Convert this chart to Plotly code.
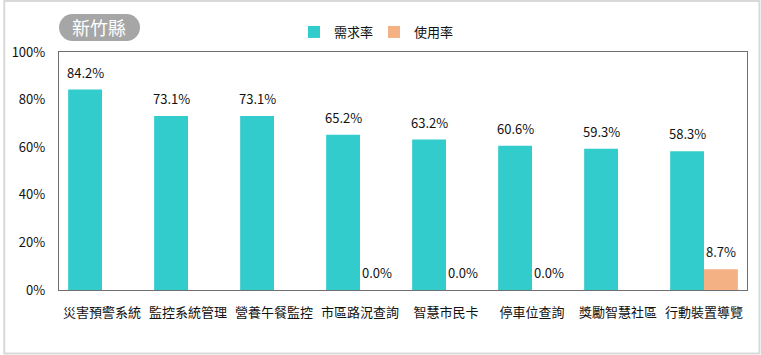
import plotly.graph_objects as go

categories = ["災害預警系統", "監控系統管理", "營養午餐監控", "市區路況查詢",
              "智慧市民卡", "停車位查詢", "獎勵智慧社區", "行動裝置導覽"]
demand = [84.2, 73.1, 73.1, 65.2, 63.2, 60.6, 59.3, 58.3]
usage = [None, None, None, 0.0, 0.0, 0.0, None, 8.7]
series_names = ["需求率", "使用率"]
colors = ["#33CCCC", "#F4B183"]
y_ticks = [0, 20, 40, 60, 80, 100]
title_text = "新竹縣"

FONT = "Noto Sans CJK TC, Noto Sans CJK SC, sans-serif"
W, H = 761, 355
ML, MR, MT, MB = 56, 14, 52, 65
PW, PH = W - ML - MR, H - MT - MB

def px_x(p):
    return (p - ML) / PW

def px_y(p):
    return (H - MB - p) / PH

fig = go.Figure()
fig.add_trace(go.Bar(x=categories, y=demand, name=series_names[0],
                     marker_color=colors[0], marker_line_width=0))
fig.add_trace(go.Bar(x=categories, y=usage, name=series_names[1],
                     marker_color=colors[1], marker_line_width=0))

annotations = []
for vals, shift in ((demand, -17), (usage, 17)):
    for c, v in zip(categories, vals):
        if v is None:
            continue
        annotations.append(dict(x=c, y=v, xref="x", yref="y", text=f"{v:.1f}%",
                                showarrow=False, yanchor="bottom", xshift=shift,
                                yshift=6, font=dict(size=13, color="#111111", family=FONT)))

# title badge text
annotations.append(dict(x=px_x(96.5), y=px_y(27.5), xref="paper", yref="paper",
                        text=title_text, showarrow=False, xanchor="center", yanchor="middle",
                        font=dict(size=18, color="white", family=FONT)))

r = 13.5
k = 0.5523 * r
w = 81
top, bot = 38, 11
cy = (top + bot) / 2
path = (f"M {r},{top} L {w-r},{top} C {w-r+k},{top} {w},{cy+k} {w},{cy} "
        f"C {w},{cy-k} {w-r+k},{bot} {w-r},{bot} L {r},{bot} "
        f"C {r-k},{bot} 0,{cy-k} 0,{cy} C 0,{cy+k} {r-k},{top} {r},{top} Z")

shapes = [
    dict(type="path", xref="paper", yref="paper", xsizemode="pixel", ysizemode="pixel",
         xanchor=0, yanchor=1, path=path, fillcolor="#A6A6A6", line=dict(width=0), layer="above"),
    dict(type="rect", xref="paper", yref="paper", x0=px_x(1), x1=px_x(759.5),
         y0=px_y(353.5), y1=px_y(1), line=dict(color="#D9D9D9", width=2), layer="below"),
]

fig.update_layout(
    width=W, height=H,
    margin=dict(l=ML, r=MR, t=MT, b=MB),
    paper_bgcolor="white", plot_bgcolor="white",
    font=dict(family=FONT, size=13, color="#111111"),
    barmode="group", bargap=0.213, bargroupgap=0,
    showlegend=True,
    legend=dict(orientation="h", x=px_x(292), xanchor="left", y=px_y(32), yanchor="middle",
                font=dict(size=13, family=FONT), entrywidth=35, entrywidthmode="pixels",
                bgcolor="rgba(0,0,0,0)", borderwidth=0),
    annotations=annotations,
    shapes=shapes,
)
fig.update_xaxes(showline=True, linecolor="#6F6F6F", linewidth=1.3, mirror=True,
                 ticks="", showgrid=False, tickfont=dict(size=13), ticklabelstandoff=10)
fig.update_yaxes(range=[0, 100], tickvals=y_ticks, ticktext=[f"{t}%" for t in y_ticks],
                 showline=True, linecolor="#6F6F6F", linewidth=1.3, mirror=True,
                 ticks="", showgrid=False, zeroline=False, tickfont=dict(size=13),
                 ticklabelstandoff=10)

fig.write_html("out.html")
